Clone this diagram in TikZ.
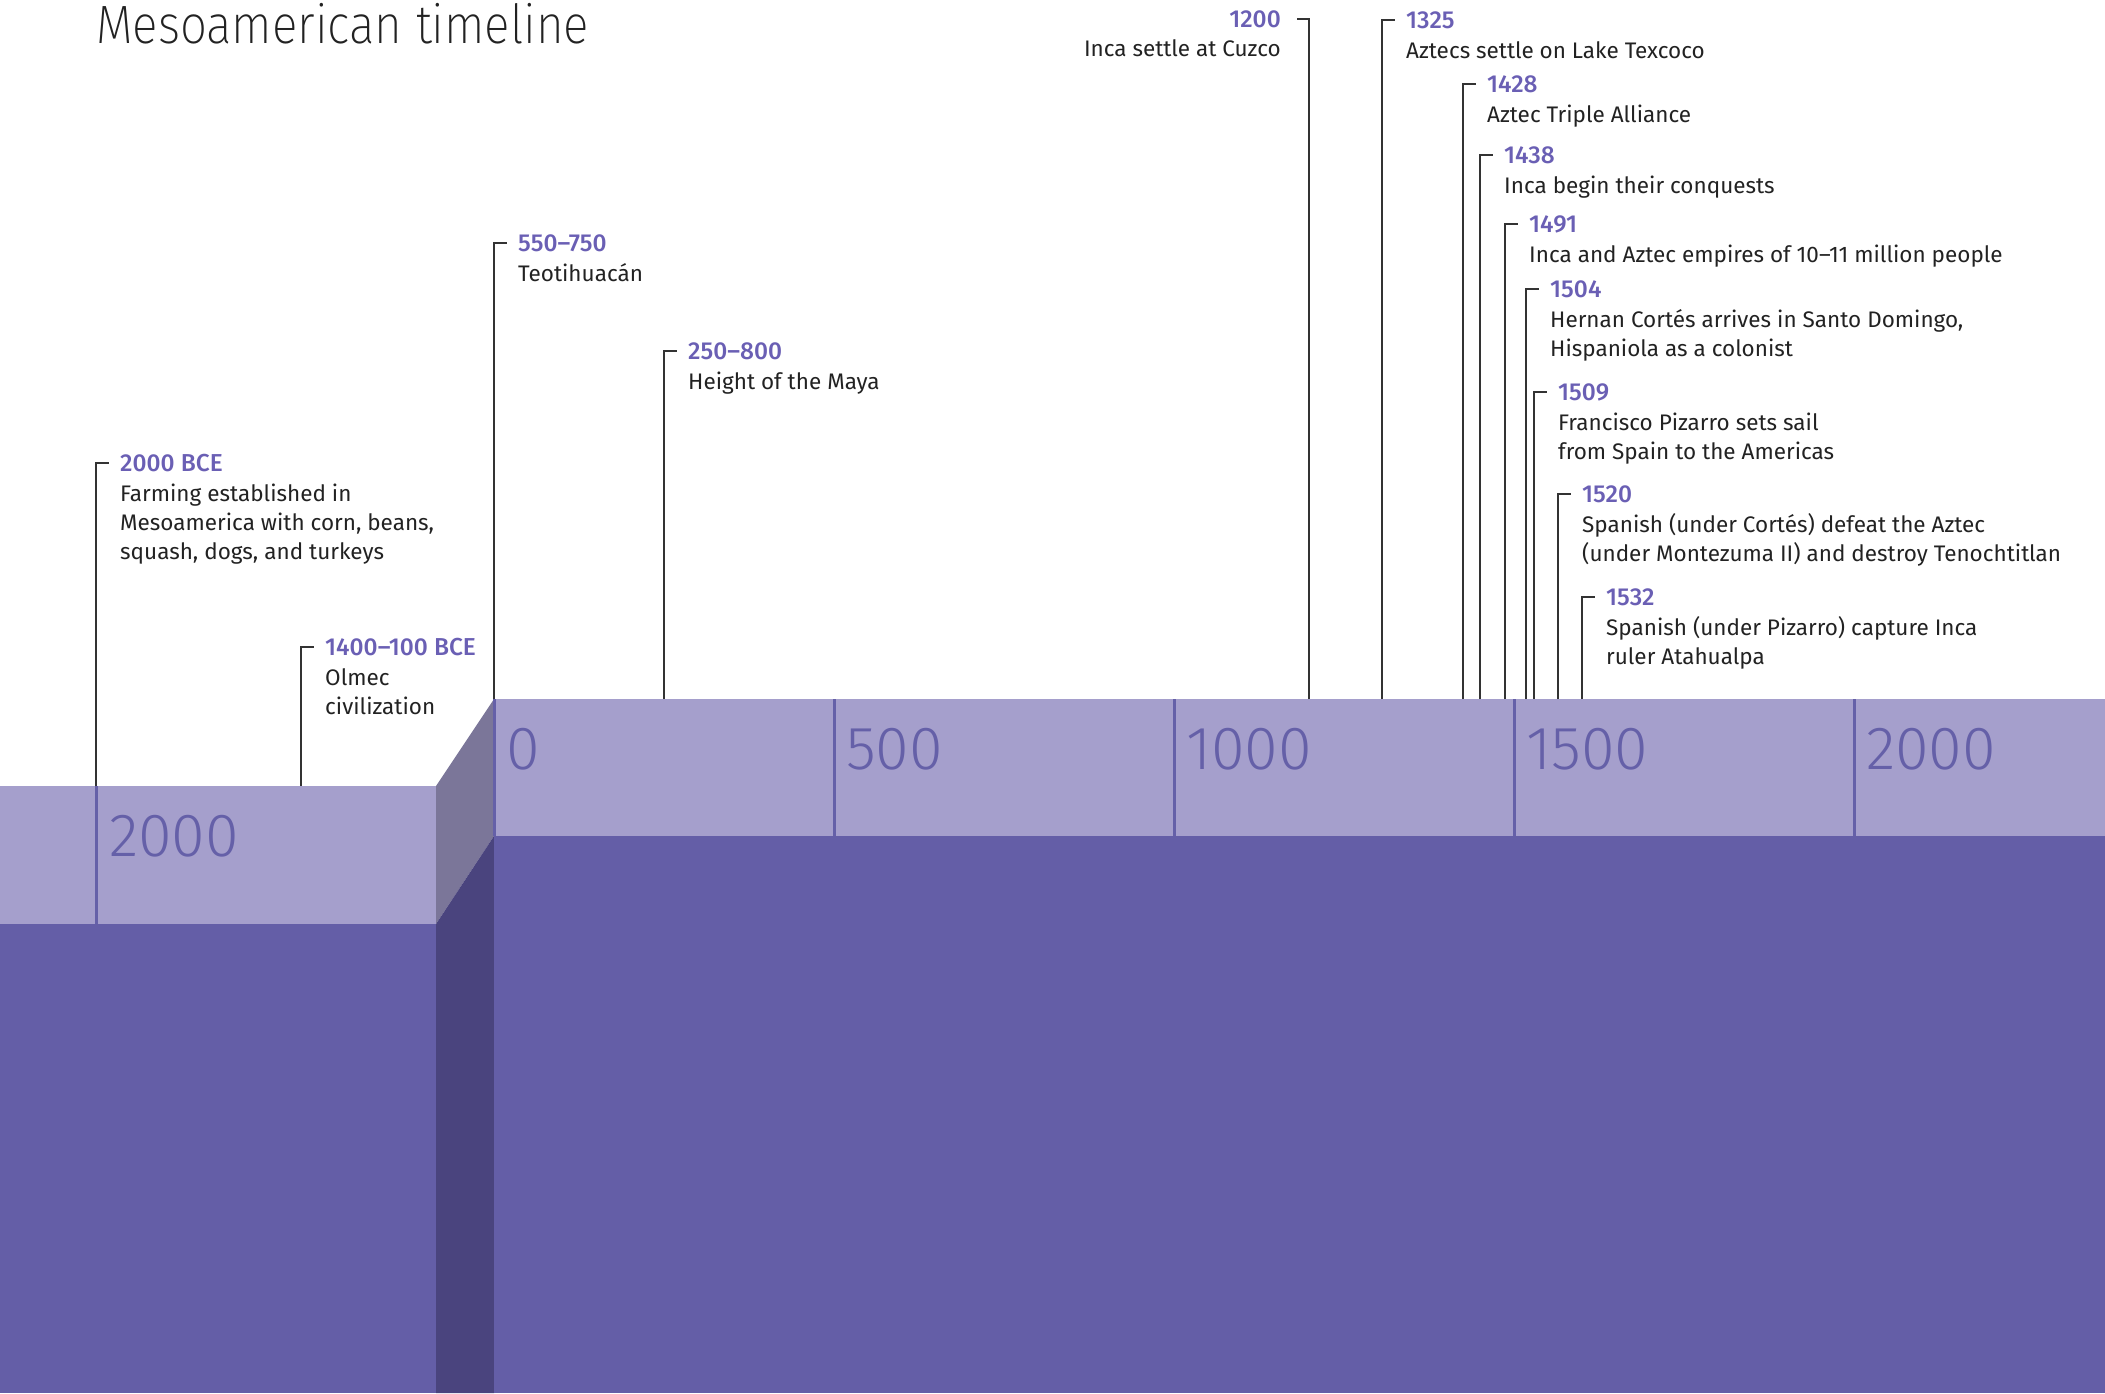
\documentclass[tikz,border=0pt]{standalone}
\usepackage{fontspec}
\setmainfont{Fira Sans}
\newfontfamily\yrfont{Fira Sans Medium}
\newfontfamily\lightfont{Fira Sans Light}
\newfontfamily\thinfont{Fira Sans ExtraLight}[FakeStretch=0.88]
\definecolor{bandlight}{HTML}{A59FCC}
\definecolor{banddark}{HTML}{645EA7}
\definecolor{slant}{HTML}{7B7699}
\definecolor{slantdark}{HTML}{4A447E}
\definecolor{tickc}{HTML}{6560A8}
\definecolor{yearc}{HTML}{6A5FB4}
\definecolor{bodyc}{HTML}{222222}
\definecolor{leadc}{HTML}{333333}
\newcommand\evlines[1]{\vtop{\halign{##\hfil\cr #1\crcr}}}
\newcommand\evt[6]{%
  \coordinate (#1b) at (#2,#4);
  \coordinate (#1t) at (#2,#3);
  \coordinate (#1s) at (#2+13,#3);
  \node[yr, anchor=base west] (#1y) at (#2+24,#3+8.5) {#5};
  \node[bd, anchor=base west] (#1d) at (#2+24,#3+38) {\evlines{#6}};
  \draw[lead] (#1b) -- (#1t) -- (#1s);
}
\begin{document}
\begin{tikzpicture}[x=1pt,y=-1pt,
  yr/.style={inner sep=0pt, text=yearc, font=\yrfont\fontsize{24.5}{29.2}\selectfont},
  bd/.style={inner sep=0pt, text=bodyc, font=\fontsize{22.5}{29.2}\selectfont},
  lead/.style={draw=leadc, line width=1.8pt},
  tickline/.style={draw=tickc, line width=3pt},
  bignum/.style={inner sep=0pt, anchor=base west, text=tickc, font=\lightfont\fontsize{61}{61}\selectfont}]
\useasboundingbox (0,0) rectangle (2105,1393);
% bands
\fill[bandlight] (0,786) rectangle (436,924);
\fill[banddark] (0,924) rectangle (436,1393);
\fill[slant] (436,786) -- (494,699) -- (494,836) -- (436,924) -- cycle;
\fill[slantdark] (436,924) -- (494,836) -- (494,1393) -- (436,1393) -- cycle;
\fill[bandlight] (494,699) rectangle (2105,836);
\fill[banddark] (494,836) rectangle (2105,1393);
% ticks
\coordinate (tA1) at (96,786); \coordinate (tA2) at (96,924);
\draw[tickline] (tA1) -- (tA2);
\node[bignum] (nA) at (109,856) {2000};
\foreach \v/\xx in {0/494,500/834,1000/1174,1500/1514,2000/1854}{
  \coordinate (t\v a) at (\xx,699); \coordinate (t\v b) at (\xx,836);
  \draw[tickline] (t\v a) -- (t\v b);
  \node[bignum] (n\v) at (\xx+12,769) {\v};
}
% title
\node[inner sep=0pt, anchor=base west, text=bodyc, font=\thinfont\fontsize{54}{54}\selectfont] (title) at (96,43) {Mesoamerican timeline};
% events
\evt{eA}{96}{463}{786}{2000 BCE}{Farming established in\cr Mesoamerica with corn, beans,\cr squash, dogs, and turkeys}
\evt{eB}{301}{647}{786}{1400–100 BCE}{Olmec\cr civilization}
\evt{eC}{494}{243}{699}{550–750}{Teotihuacán}
\evt{eD}{664}{351}{699}{250–800}{Height of the Maya}
% 1200 (left-facing)
\coordinate (eEb) at (1309,699);
\coordinate (eEt) at (1309,19);
\coordinate (eEs) at (1297,19);
\node[yr, anchor=base east] (eEy) at (1281,27.5) {1200};
\node[bd, anchor=base east] (eEd) at (1281,56) {Inca settle at Cuzco};
\draw[lead] (eEb) -- (eEt) -- (eEs);
\evt{eF}{1382}{20}{699}{1325}{Aztecs settle on Lake Texcoco}
\evt{eG}{1463}{84}{699}{1428}{Aztec Triple Alliance}
\evt{eH}{1480}{155}{699}{1438}{Inca begin their conquests}
\evt{eI}{1505}{224}{699}{1491}{Inca and Aztec empires of 10–11 million people}
\evt{eJ}{1526}{289}{699}{1504}{Hernan Cortés arrives in Santo Domingo,\cr Hispaniola as a colonist}
\evt{eK}{1534}{392}{699}{1509}{Francisco Pizarro sets sail\cr from Spain to the Americas}
\evt{eL}{1558}{494}{699}{1520}{Spanish (under Cortés) defeat the Aztec\cr (under Montezuma II) and destroy Tenochtitlan}
\evt{eM}{1582}{597}{699}{1532}{Spanish (under Pizarro) capture Inca\cr ruler Atahualpa}
\end{tikzpicture}
\end{document}
